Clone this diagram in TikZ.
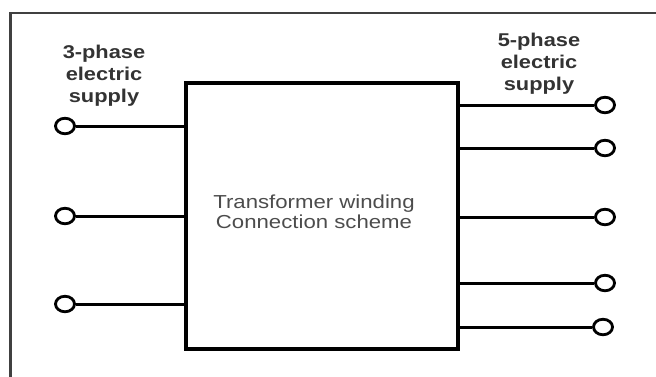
\documentclass[tikz,border=0pt]{standalone}
\usepackage{fontspec}
\setmainfont{Liberation Sans}
\usepackage{graphicx}
\usetikzlibrary{shapes.geometric}

\newcommand{\wide}[1]{\scalebox{1.18}[1]{#1}}

\tikzset{
	wire/.style={line width=3pt},
	term/.style={draw, ellipse, line width=2.8pt, minimum width=19pt, minimum height=15.5pt, inner sep=0pt, fill=white},
	supply/.style={font=\bfseries\fontsize{18.5}{22}\selectfont, text=black!80, align=center},
}

\begin{document}
\begin{tikzpicture}[x=1pt, y=-1pt]
		\useasboundingbox (0,0) rectangle (656,376);
		\clip (0,0) rectangle (656,376);
		\draw[line width=2.8pt, black!75] (10.5,13) rectangle (680,400);
		% winding block
		\node[draw, line width=3.2pt, minimum width=272pt, minimum height=266pt] (scheme) at (322,216) {};
		\node[font=\fontsize{18.8}{19.5}\selectfont, text=black!70, align=center] (caption) at (314,212) {\wide{Transformer winding}\\\wide{Connection scheme}};
		% supply side
		\foreach \y [count=\i] in {126,216,304} {
			\node[term] (in\i) at (65,\y) {};
			\draw[wire] (in\i.east) -- (scheme.west |- in\i);
		}
		\node[supply] (inlabel) at (104,76) {\wide{3-phase}\\\wide{electric}\\\wide{supply}};
		% load side
		\foreach \x/\y [count=\i] in {605/105,605/148,605/217,605/283,603/327} {
			\node[term] (out\i) at (\x,\y) {};
			\draw[wire] (out\i.west) -- (scheme.east |- out\i);
		}
		\node[supply] (outlabel) at (539,64) {\wide{5-phase}\\\wide{electric}\\\wide{supply}};
	\end{tikzpicture}
\end{document}
